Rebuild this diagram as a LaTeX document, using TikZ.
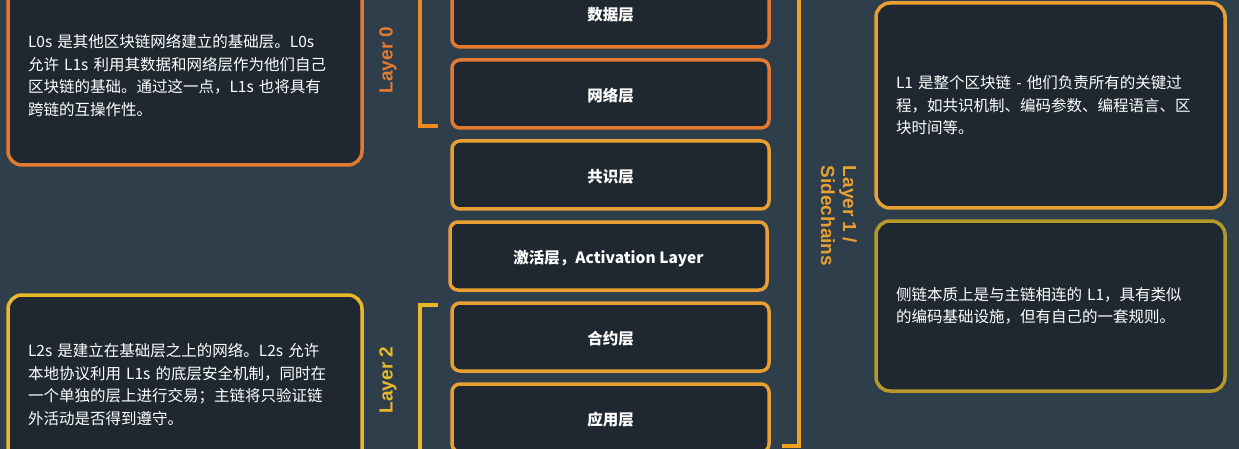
\documentclass[tikz,border=0pt]{standalone}
\usepackage{fontspec}
\setmainfont{Noto Sans CJK SC}
\newfontfamily\labelfont{Liberation Sans}
\usetikzlibrary{positioning}

\definecolor{bgslate}{HTML}{2F3E4B}
\definecolor{boxfill}{HTML}{1F2830}
\definecolor{lzero}{HTML}{E27B2F}
\definecolor{lzerobar}{HTML}{F08A1E}
\definecolor{lone}{HTML}{E8A032}
\definecolor{lonebar}{HTML}{F0A11E}
\definecolor{ltwo}{HTML}{E9B92A}
\definecolor{side}{HTML}{B59A2B}

\begin{document}
\begin{tikzpicture}[x=1pt, y=-1pt,
  stackbox/.style={rectangle, rounded corners=8pt, minimum width=317pt,
                   minimum height=68pt, fill=boxfill, line width=3.5pt,
                   outer sep=0pt, text=white, text height=15.5pt, text depth=0pt,
                   font=\fontsize{15.5}{18}\selectfont\bfseries},
  zerobox/.style={stackbox, draw=lzero},
  onebox/.style={stackbox, draw=lone},
  infobox/.style={rectangle, rounded corners=14pt, fill=boxfill,
                  line width=3.5pt, outer sep=0pt, text=white, align=left,
                  font=\fontsize{15.5}{22.5}\selectfont},
  bracket/.style={line width=4.5pt},
  layerlabel/.style={font=\labelfont\bfseries\fontsize{19}{22}\selectfont},
  node distance=13pt
]

\useasboundingbox (0,0) rectangle (1239,449);
\clip (0,0) rectangle (1239,449);
\fill[bgslate] (0,0) rectangle (1239,449);

%% Middle column: the layer stack
\node[zerobox] (data) at (610.5,13) {数据层};
\node[zerobox, below=of data] (net) {网络层};
\node[onebox, below=of net] (cons) {共识层};
\node[onebox, below=of cons, xshift=-2pt] (act) {激活层，Activation Layer};
\node[onebox, below=of act, xshift=2pt] (contract) {合约层};
\node[onebox, below=of contract] (app) {应用层};

%% Left column
\node[infobox, draw=lzero, minimum width=354pt, minimum height=179pt,
      text width=314pt] (l0info) at (185,75.5)
  {L0s 是其他区块链网络建立的基础层。L0s\\
   允许 L1s 利用其数据和网络层作为他们自己\\
   区块链的基础。通过这一点，L1s 也将具有\\
   跨链的互操作性。};
\node[infobox, draw=ltwo, minimum width=354pt, minimum height=179pt,
      text width=314pt] (l2info) at (185,384.5)
  {L2s 是建立在基础层之上的网络。L2s 允许\\
   本地协议利用 L1s 的底层安全机制，同时在\\
   一个单独的层上进行交易；主链将只验证链\\
   外活动是否得到遵守。};

%% Right column
\node[infobox, draw=lone, minimum width=349pt, minimum height=205pt,
      text width=309pt] (l1info) at (1050.5,105.5)
  {L1 是整个区块链 - 他们负责所有的关键过\\
   程，如共识机制、编码参数、编程语言、区\\
   块时间等。};
\node[infobox, draw=side, minimum width=349pt, minimum height=170pt,
      text width=309pt, below=of l1info] (sideinfo)
  {侧链本质上是与主链相连的 L1，具有类似\\
   的编码基础设施，但有自己的一套规则。};

%% Brackets
\coordinate (l0top) at (420,-5);
\coordinate (l0end) at (438,126);
\draw[bracket, lzerobar] (l0top) |- (l0end);

\coordinate (l2start) at (438,305);
\coordinate (l2bot) at (420,455);
\draw[bracket, ltwo] (l2start) -| (l2bot);

\coordinate (l1top) at (799,-5);
\coordinate (l1end) at (782,446);
\draw[bracket, lonebar] (l1top) |- (l1end);

%% Layer labels
\node[layerlabel, lzero, rotate=90] (l0label) at (388,60) {Layer 0};
\node[layerlabel, ltwo, rotate=90] (l2label) at (388,380) {Layer 2};
\node[layerlabel, lone, rotate=-90, align=left] (l1label) at (839,216)
  {Layer 1 /\\Sidechains};

\end{tikzpicture}
\end{document}
